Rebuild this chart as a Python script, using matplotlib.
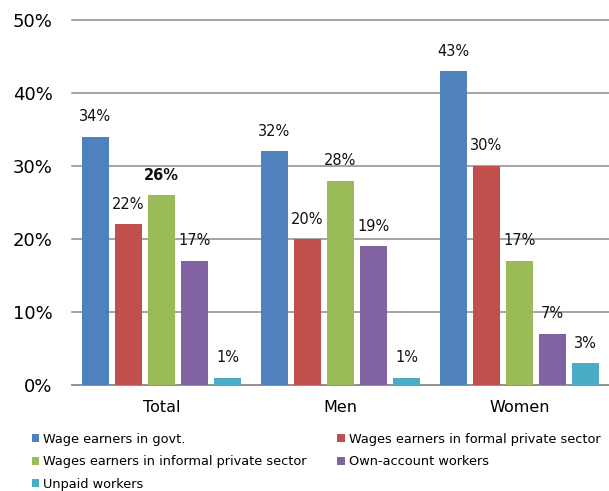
import matplotlib
matplotlib.use('Agg')
import matplotlib.pyplot as plt
import numpy as np

# -------------------------------------------------------------------------------------------------------
groups = ['Total', 'Men', 'Women']
series = ['Wage earners in govt.',
          'Wages earners in formal private sector',
          'Wages earners in informal private sector',
          'Own-account workers',
          'Unpaid workers']
govt = [34, 32, 43]
formal = [22, 20, 30]
informal = [26, 28, 17]
own_account = [17, 19, 7]
unpaid = [1, 1, 3]
colors = ['#4F81BD', '#C0504D', '#9BBB59', '#8064A2', '#4BACC6']
y_ticks = [0, 10, 20, 30, 40, 50]


# -------------------------------------------------------------------------------------------------------
def main():
    plt.rcParams['font.family'] = ['DejaVu Sans']
    values = [govt, formal, informal, own_account, unpaid]

    fig = plt.figure(figsize=(6.09, 4.91), dpi=100)
    ax = fig.add_axes([72 / 609, 1 - 385 / 491, 1 - 72 / 609, (385 - 20) / 491])

    x = np.arange(len(groups))
    step = 0.185
    width = 0.148
    bars = []
    for i, (name, vals, col) in enumerate(zip(series, values, colors)):
        pos = x + (i - 2) * step
        bars.append(ax.bar(pos, vals, width, color=col, label=name, zorder=3))
        for px, v in zip(pos, vals):
            bold = (i == 2 and px < 0.5)
            ax.annotate('%d%%' % v, (px, v), xytext=(0, 14.4), textcoords='offset points',
                        ha='center', va='center', fontsize=10.5, color='#111111',
                        fontweight='bold' if bold else 'normal')

    ax.set_xlim(-0.5, 2.5)
    ax.set_ylim(0, 50)
    ax.set_yticks(y_ticks)
    ax.set_yticklabels(['%d%%' % t for t in y_ticks], fontsize=13)
    ax.set_xticks(x)
    ax.set_xticklabels(groups, fontsize=11.5)
    ax.tick_params(axis='both', length=0)
    ax.tick_params(axis='y', pad=14)
    ax.tick_params(axis='x', pad=11)
    ax.yaxis.grid(True, color='#8c8c8c', linewidth=1.1, zorder=0)
    for gl in ax.get_ygridlines():
        gl.set_clip_on(False)
    for s in ['left', 'right', 'top']:
        ax.spines[s].set_visible(False)
    ax.spines['bottom'].set_color('#8c8c8c')
    ax.spines['bottom'].set_linewidth(1.1)

    # legend filled row by row: two entries per line
    order = [0, 2, 4, 1, 3]
    fig.legend([bars[k] for k in order], [series[k] for k in order],
               loc='upper left', bbox_to_anchor=(31.5 / 609, 1 - 433 / 491), ncol=2,
               frameon=False, fontsize=9.3, handlelength=0.58, handleheight=0.58,
               handletextpad=0.3, labelspacing=0.72, columnspacing=2.4,
               borderaxespad=0, borderpad=0)

    fig.savefig('out.png', dpi=100)


if __name__ == '__main__':
    main()
